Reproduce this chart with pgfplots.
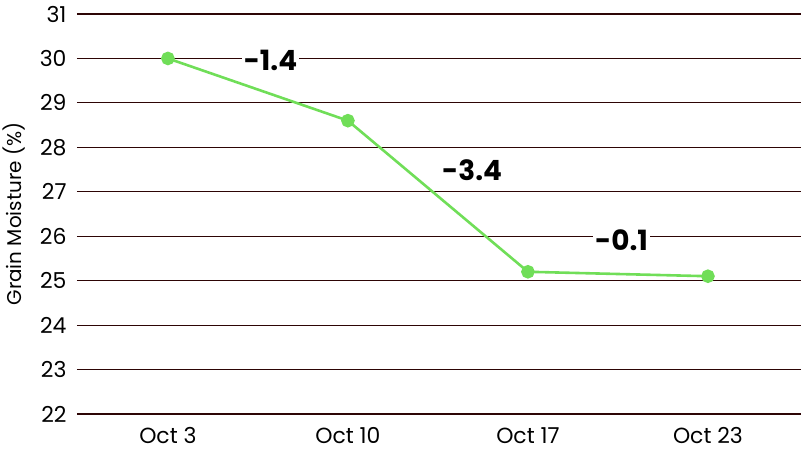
\documentclass[border=0pt]{standalone}
\usepackage{pgfplots}
\pgfplotsset{compat=1.18}
\usepackage{fontspec}
\setmainfont{Poppins}
\definecolor{gridc}{RGB}{45,5,5}
\definecolor{linec}{RGB}{112,222,88}
\begin{document}
\begin{tikzpicture}
\begin{axis}[
  scale only axis,
  width=724bp, height=400bp,
  xmin=-0.505, xmax=3.517,
  ymin=22, ymax=31,
  axis line style={draw=none},
  ytick={22,...,31},
  xtick={0,1,2,3},
  xticklabels={Oct 3,Oct 10,Oct 17,Oct 23},
  major tick length=0pt,
  ymajorgrids,
  grid style={gridc, line width=1.1bp},
  tick label style={font=\fontsize{22}{26}\selectfont, black},
  yticklabel style={xshift=-7bp},
  xticklabel style={yshift=-10bp},
  /pgf/number format/assume math mode=true,
  ylabel={Grain Moisture (\%)},
  every axis y label/.style={at={(rel axis cs:0,0.5)}, xshift=-63bp,
    rotate=90, anchor=center, font=\fontsize{20}{24}\selectfont},
  clip=false,
]
\coordinate (sw) at (rel axis cs:0,0);
\coordinate (ne) at (rel axis cs:1,1);
\addplot[linec, line width=2.6bp, mark=*, mark size=5.5bp,
  mark options={fill=linec, draw=linec}] coordinates {
  (0,30.0) (1,28.6) (2,25.2) (3,25.1)
};
\node[fill=white, inner sep=2bp, font=\fontsize{28}{32}\selectfont\bfseries]
  at (axis cs:0.57,29.95) {-1.4};
\node[fill=white, inner sep=2bp, font=\fontsize{28}{32}\selectfont\bfseries]
  at (axis cs:1.69,27.49) {-3.4};
\node[fill=white, inner sep=2bp, font=\fontsize{28}{32}\selectfont\bfseries]
  at (axis cs:2.52,25.92) {-0.1};
\end{axis}
\pgfresetboundingbox
\path ([shift={(-77bp,-39bp)}]sw) rectangle ([shift={(0bp,14bp)}]ne);
\end{tikzpicture}
\end{document}
